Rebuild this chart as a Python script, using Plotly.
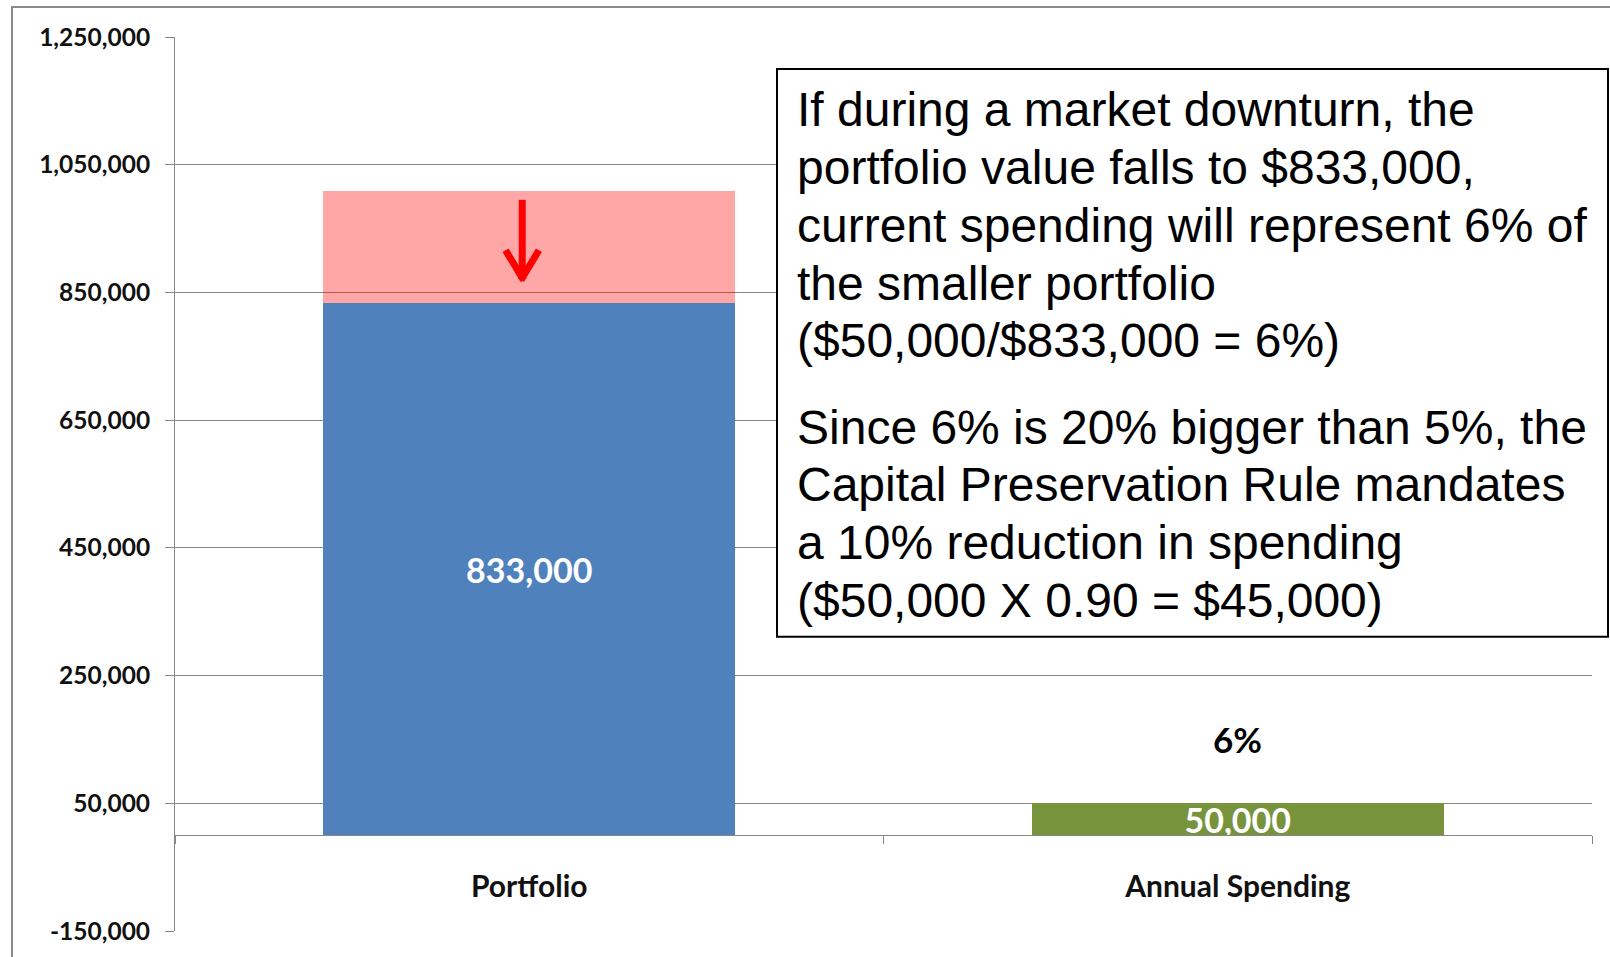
import plotly.graph_objects as go

# ---------------- data ----------------
categories = ["Portfolio", "Annual Spending"]
current_values = [833000, 50000]          # value after the downturn / annual spending
decline_values = [176000, None]           # portion lost in the downturn (pink)
bar_colors = ["#4F81BD", "#77933C"]
value_labels = ["833,000", "50,000"]
spending_pct_label = "6%"
spending_pct_y = 150000

y_tickvals = [-150000, 50000, 250000, 450000, 650000, 850000, 1050000, 1250000]
y_ticktext = ["-150,000", "50,000", "250,000", "450,000", "650,000",
              "850,000", "1,050,000", "1,250,000"]
y_range = [-150000, 1250000]

# arrow showing the fall in portfolio value
arrow_top = 995000
arrow_tip = 869000
arrow_wing = 916000

note_par1 = [
    "If during a market downturn, the",
    "portfolio value falls to $833,000,",
    "current spending will represent 6% of",
    "the smaller portfolio",
    "($50,000/$833,000 = 6%)",
]
note_par2 = [
    "Since 6% is 20% bigger than 5%, the",
    "Capital Preservation Rule mandates",
    "a 10% reduction in spending",
    "($50,000 X 0.90 = $45,000)",
]

# ---------------- layout helpers ----------------
W, H = 1610, 957
ML, MR, MT, MB = 175, 18, 37, 24
PW, PH = W - ML - MR, H - MT - MB


def px_x(x):
    return (x - ML) / PW


def px_y(y):
    return (H - MB - y) / PH


GRID = "#868686"
FONT = "Lato, Open Sans, sans-serif"

fig = go.Figure()
fig.add_trace(go.Bar(
    x=categories, y=current_values,
    marker=dict(color=bar_colors, line=dict(width=0)),
    text=value_labels, textposition="inside", insidetextanchor="middle",
    constraintext="none",
    textfont=dict(family=FONT, size=34, color="white", weight="bold"),
    hoverinfo="skip", showlegend=False,
))
fig.add_trace(go.Bar(
    x=categories, y=decline_values,
    marker=dict(color="rgba(255,0,0,0.35)", line=dict(width=0)),
    hoverinfo="skip", showlegend=False,
))

zero_pos = (0 - y_range[0]) / (y_range[1] - y_range[0])

fig.update_layout(
    width=W, height=H,
    margin=dict(l=ML, r=MR, t=MT, b=MB, pad=0),
    paper_bgcolor="white", plot_bgcolor="white",
    barmode="stack", bargap=0.418,
    xaxis=dict(
        anchor="free", position=zero_pos,
        showline=True, linecolor=GRID, linewidth=1,
        showgrid=False, zeroline=False,
        ticks="outside", ticklen=8, tickcolor=GRID, tickson="boundaries",
        tickfont=dict(family=FONT, size=30, color="#111", weight="bold"),
        ticklabelstandoff=25,
    ),
    yaxis=dict(
        range=y_range, tickvals=y_tickvals, ticktext=y_ticktext,
        showline=True, linecolor=GRID, linewidth=1,
        showgrid=True, gridcolor=GRID, gridwidth=1, zeroline=False,
        ticks="outside", ticklen=9, tickcolor=GRID,
        tickfont=dict(family=FONT, size=24.5, color="#111", weight="bold"),
        ticklabelstandoff=10,
    ),
)

shapes = []
# outer chart frame
shapes.append(dict(type="rect", xref="paper", yref="paper",
                   x0=px_x(12), x1=px_x(1650), y0=px_y(1000), y1=px_y(7),
                   line=dict(color="#8A8A8A", width=2), fillcolor="rgba(0,0,0,0)",
                   layer="above"))
# note box
shapes.append(dict(type="rect", xref="paper", yref="paper",
                   x0=px_x(777), x1=px_x(1608), y0=px_y(638), y1=px_y(69),
                   line=dict(color="black", width=2), fillcolor="white",
                   layer="above"))
# red arrow
ax = 0 - 0.0099
wing = 0.0235
arrow_line = dict(color="#FF0000", width=7)
shapes.append(dict(type="line", xref="x", yref="y", x0=ax, x1=ax,
                   y0=arrow_top, y1=arrow_tip + 5000, line=arrow_line, layer="above"))
shapes.append(dict(type="line", xref="x", yref="y", x0=ax - wing, x1=ax + 0.002,
                   y0=arrow_wing, y1=arrow_tip, line=arrow_line, layer="above"))
shapes.append(dict(type="line", xref="x", yref="y", x0=ax + wing, x1=ax - 0.002,
                   y0=arrow_wing, y1=arrow_tip, line=arrow_line, layer="above"))
fig.update_layout(shapes=shapes)

annotations = []
# percentage label above the spending bar
annotations.append(dict(x=categories[1], y=spending_pct_y, xref="x", yref="y",
                        text=spending_pct_label, showarrow=False,
                        font=dict(family=FONT, size=35, color="black", weight="bold"),
                        xanchor="center", yanchor="middle"))
# note text lines
line_step = 57.9
par_gap = 28.5
y0 = 110
ys = [y0 + i * line_step for i in range(len(note_par1))]
y1 = ys[-1] + line_step + par_gap
ys += [y1 + i * line_step for i in range(len(note_par2))]
for txt, yy in zip(note_par1 + note_par2, ys):
    annotations.append(dict(x=px_x(795), y=px_y(yy), xref="paper", yref="paper",
                            text=txt, showarrow=False, xanchor="left", yanchor="middle",
                            font=dict(family="Liberation Sans, Arial", size=48, color="black")))
fig.update_layout(annotations=annotations)

fig.write_html("out.html", config={"displayModeBar": False},
               post_script="document.body.style.margin='0px';document.body.style.padding='0px';")
